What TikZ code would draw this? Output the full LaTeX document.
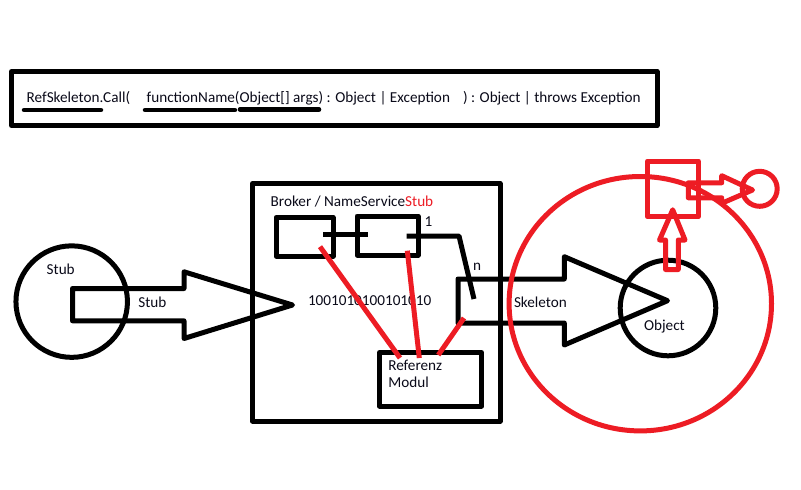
\documentclass[tikz,border=0pt]{standalone}
\usepackage{fontspec}
\setmainfont{Carlito}
\usetikzlibrary{shapes.geometric}
\definecolor{pred}{RGB}{237,28,36}
\definecolor{ink}{RGB}{10,10,25}
\begin{document}
\begin{tikzpicture}[x=1pt,y=-1pt,
  line join=round,
  bline/.style={draw=black,line width=5pt},
  rline/.style={draw=pred,line width=5pt},
  boxnode/.style={bline,rectangle,inner sep=0pt,outer sep=0pt},
  rbox/.style={rline,rectangle,inner sep=0pt,outer sep=0pt},
  ring/.style={bline,circle,inner sep=0pt,outer sep=0pt},
  rring/.style={rline,circle,inner sep=0pt,outer sep=0pt},
  lbl/.style={inner sep=0pt,outer sep=0pt,text=ink,font=\fontsize{15.2}{17}\selectfont},
  ul/.style={draw=black,line width=4.5pt,line cap=round}]
\useasboundingbox (0,0) rectangle (801,490);
\fill[white] (0,0) rectangle (801,490);

% top signature box
\node[boxnode,minimum width=645.5pt,minimum height=54pt] (sig) at (334.25,98.5) {};
\node[lbl,anchor=base west] (t1) at (26.7,102.7) {RefSkeleton.Call(};
\node[lbl,anchor=base west] (t2) at (146.7,102.7) {functionName(Object[] args) : Object | Exception};
\node[lbl,anchor=base west] (t3) at (463,102.7) {) : Object | throws Exception};
\coordinate (u1a) at (24,110); \coordinate (u1b) at (101,110);
\coordinate (u2a) at (145,110); \coordinate (u2b) at (235,110);
\coordinate (u3a) at (240,109.5); \coordinate (u3b) at (319,109.5);
\draw[ul] (u1a) -- (u1b);
\draw[ul] (u2a) -- (u2b);
\draw[ul] (u3a) -- (u3b);

% broker
\node[boxnode,minimum width=247.5pt,minimum height=237.5pt] (broker) at (376.25,302.25) {};
\node[lbl,anchor=base west] (brokerlbl) at (270.7,206.7) {Broker / NameService\textcolor{pred}{Stub}};
\node[boxnode,minimum width=57pt,minimum height=38.5pt] (box1) at (304.5,236.75) {};
\node[boxnode,minimum width=61pt,minimum height=39pt] (box2) at (387.5,235.5) {};
\node[boxnode,minimum width=102pt,minimum height=53.5pt] (ref) at (430.5,379.25) {};
\node[lbl,anchor=base west] (reftxt) at (388.3,370) {Referenz};
\node[lbl,anchor=base west] (modtxt) at (388.3,387.3) {Modul};
\node[lbl,anchor=base west] (bits) at (308,305.5) {1001010100101010};
\node[lbl,anchor=base] (one) at (428.5,226.7) {1};
\node[lbl,anchor=base] (enn) at (477,270) {n};

\coordinate (c1a) at (323,234); \coordinate (c1b) at (368,234);
\draw[bline] (c1a) -- (c1b);
\coordinate (c2a) at (406.7,236); \coordinate (c2m) at (459,236); \coordinate (c2b) at (474,299);
\draw[bline] (c2a) -- (c2m) -- (c2b);

% stub
\node[ring,minimum size=111.5pt] (stub) at (71.7,301.6) {};
\node[lbl,anchor=base west] (stubtxt) at (46.7,274) {Stub};
\draw[bline] (72.5,288.5) -- (184,288.5) -- (184,271.8) -- (292.5,305) -- (184,338.5) -- (184,320.8) -- (72.5,320.8) -- cycle;
\node[lbl,anchor=base west] (stubarr) at (138.3,307.5) {Stub};

% skeleton
\draw[bline] (458,279) -- (564.3,279) -- (564.3,256.7) -- (667.5,300.7) -- (564.3,345) -- (564.3,323) -- (458,323) -- cycle;
\node[lbl,anchor=base west] (skel) at (514,307) {Skeleton};
\node[ring,minimum size=95.6pt] (obj) at (668,308) {};
\node[lbl,anchor=base west] (objtxt) at (644,330.5) {Object};

% red lines
\coordinate (r1a) at (320,246.7); \coordinate (r1b) at (400,358);
\coordinate (r2a) at (407.3,250.7); \coordinate (r2b) at (419.3,358);
\coordinate (r3a) at (464,318); \coordinate (r3b) at (438.3,355);
\draw[rline] (r1a) -- (r1b);
\draw[rline] (r2a) -- (r2b);
\draw[rline] (r3a) -- (r3b);

% red parts
\node[rline,ellipse,inner sep=0pt,outer sep=0pt,minimum width=262.4pt,minimum height=254.4pt] (big) at (640.3,303.7) {};
\node[rbox,minimum width=50.8pt,minimum height=55.7pt] (sq) at (672.9,188.85) {};
\draw[rline] (665.5,269.5) -- (665.5,240) -- (659.5,240) -- (672.7,209.8) -- (685,240) -- (678.3,240) -- (678.3,269.5) -- cycle;
\draw[rline] (688.3,182.8) -- (721.7,182.8) -- (721.7,175.7) -- (752.5,190) -- (721.7,203.3) -- (721.7,197.8) -- (688.3,197.8) -- cycle;
\node[rring,minimum size=35pt] (small) at (759.7,188.8) {};
\end{tikzpicture}
\end{document}
